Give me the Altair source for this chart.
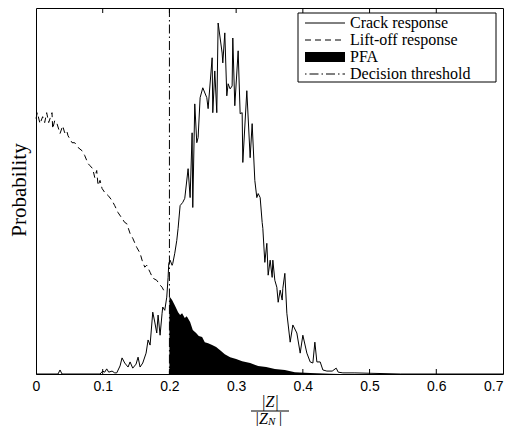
import altair as alt
import pandas as pd

# ---- data ----
crack_x = [0.0, 0.033, 0.036, 0.039, 0.096, 0.100, 0.103, 0.106, 0.109, 0.114, 0.118, 0.121,
           0.126, 0.129, 0.133, 0.138, 0.141, 0.145, 0.150, 0.153, 0.156, 0.160, 0.165, 0.168,
           0.171, 0.175, 0.178, 0.181, 0.183, 0.186, 0.189, 0.190, 0.193, 0.196, 0.198, 0.199,
           0.201, 0.204, 0.205, 0.208, 0.211, 0.213, 0.216, 0.220, 0.223, 0.228, 0.231, 0.234,
           0.235, 0.238, 0.241, 0.243, 0.246, 0.250, 0.256, 0.258, 0.264, 0.265, 0.268, 0.271,
           0.273, 0.279, 0.280, 0.283, 0.286, 0.288, 0.291, 0.294, 0.295, 0.298, 0.303, 0.306,
           0.309, 0.310, 0.316, 0.321, 0.324, 0.328, 0.331, 0.333, 0.336, 0.339, 0.340, 0.343,
           0.346, 0.348, 0.351, 0.354, 0.355, 0.358, 0.361, 0.363, 0.366, 0.369, 0.370, 0.373,
           0.376, 0.381, 0.385, 0.391, 0.396, 0.400, 0.406, 0.411, 0.415, 0.418, 0.421, 0.426,
           0.430, 0.436, 0.444, 0.450, 0.453, 0.460, 0.478, 0.546, 0.700]
crack_y = [0.0, 0.0, 0.011, 0.0, 0.0, 0.008, 0.005, 0.014, 0.005, 0.008, 0.003, 0.003,
           0.022, 0.044, 0.030, 0.019, 0.033, 0.016, 0.027, 0.046, 0.019, 0.030, 0.057, 0.093,
           0.079, 0.169, 0.142, 0.112, 0.161, 0.106, 0.166, 0.183, 0.174, 0.210, 0.264, 0.302,
           0.311, 0.297, 0.302, 0.330, 0.365, 0.398, 0.460, 0.469, 0.480, 0.561, 0.482, 0.659,
           0.455, 0.738, 0.632, 0.646, 0.755, 0.782, 0.755, 0.725, 0.864, 0.714, 0.828, 0.714,
           0.959, 0.877, 0.850, 0.932, 0.760, 0.793, 0.779, 0.787, 0.918, 0.733, 0.883, 0.711,
           0.714, 0.578, 0.774, 0.591, 0.684, 0.529, 0.482, 0.493, 0.482, 0.414, 0.398, 0.305,
           0.357, 0.270, 0.311, 0.264, 0.311, 0.256, 0.237, 0.196, 0.229, 0.202, 0.234, 0.275,
           0.166, 0.087, 0.134, 0.112, 0.057, 0.106, 0.057, 0.033, 0.030, 0.087, 0.033, 0.033,
           0.011, 0.008, 0.008, 0.016, 0.005, 0.003, 0.003, 0.0, 0.0]

lift_x = [0.0, 0.002, 0.006, 0.010, 0.013, 0.016, 0.019, 0.024, 0.025, 0.028, 0.031, 0.036,
          0.040, 0.043, 0.046, 0.048, 0.054, 0.058, 0.063, 0.069, 0.073, 0.078, 0.081, 0.085,
          0.088, 0.091, 0.093, 0.096, 0.099, 0.103, 0.108, 0.114, 0.118, 0.123, 0.129, 0.133,
          0.136, 0.141, 0.145, 0.151, 0.156, 0.159, 0.163, 0.166, 0.171, 0.175, 0.181, 0.186,
          0.189, 0.193]
lift_y = [0.698, 0.714, 0.684, 0.703, 0.687, 0.714, 0.687, 0.714, 0.670, 0.692, 0.687, 0.657,
          0.678, 0.659, 0.665, 0.651, 0.632, 0.632, 0.619, 0.610, 0.597, 0.575, 0.569, 0.561,
          0.537, 0.556, 0.515, 0.529, 0.507, 0.496, 0.488, 0.474, 0.460, 0.441, 0.425, 0.414,
          0.411, 0.384, 0.371, 0.346, 0.330, 0.311, 0.292, 0.297, 0.278, 0.262, 0.256, 0.243,
          0.237, 0.223]

pfa_x = [0.200, 0.201, 0.204, 0.208, 0.213, 0.216, 0.219, 0.223, 0.226, 0.231, 0.235, 0.240,
         0.244, 0.249, 0.253, 0.258, 0.264, 0.270, 0.276, 0.283, 0.291, 0.300, 0.309, 0.321,
         0.333, 0.345, 0.358, 0.373, 0.388, 0.411, 0.441, 0.456]
pfa_y = [0.210, 0.210, 0.202, 0.188, 0.169, 0.161, 0.166, 0.153, 0.158, 0.142, 0.120, 0.112,
         0.104, 0.101, 0.087, 0.084, 0.079, 0.074, 0.065, 0.054, 0.046, 0.041, 0.035, 0.030,
         0.022, 0.019, 0.014, 0.011, 0.005, 0.003, 0.001, 0.0]

threshold = [0.2]
tick_values = [0.0, 0.1, 0.2, 0.3, 0.4, 0.5, 0.6, 0.7]
inner_ticks = [0.1, 0.2, 0.3, 0.4, 0.5, 0.6]
legend_labels = ["Crack response", "Lift-off response", "PFA", "Decision threshold"]

W, H = 467, 366
SERIF = "Liberation Serif"

xs = alt.Scale(domain=[0, 0.7], nice=False, zero=False)
ys = alt.Scale(domain=[0, 1], nice=False)
xax = alt.Axis(values=tick_values, format=".1~f", grid=False, ticks=False, domain=False,
               labelFont="Liberation Sans", labelFontSize=14, labelColor="black",
               labelPadding=5, labelFlush=False, title=None,
               labelAlign=alt.expr("datum.value >= 0.7 ? 'right' : 'center'"))

crack_df = pd.DataFrame({"x": crack_x, "y": crack_y})
lift_df = pd.DataFrame({"x": lift_x, "y": lift_y})
pfa_df = pd.DataFrame({"x": pfa_x, "y": pfa_y})
one = pd.DataFrame({"a": [0]})

pfa = alt.Chart(pfa_df).mark_area(color="black", interpolate="linear").encode(
    x=alt.X("x:Q", scale=xs, axis=xax), y=alt.Y("y:Q", scale=ys, axis=None))
crack = alt.Chart(crack_df).mark_line(color="black", strokeWidth=1).encode(
    x=alt.X("x:Q", scale=xs), y=alt.Y("y:Q", scale=ys))
lift = alt.Chart(lift_df).mark_line(color="black", strokeWidth=1, strokeDash=[6, 4]).encode(
    x=alt.X("x:Q", scale=xs), y=alt.Y("y:Q", scale=ys))
thr = alt.Chart(pd.DataFrame({"x": threshold})).mark_rule(
    color="black", strokeWidth=1, strokeDash=[9, 3, 1.5, 3]).encode(
    x=alt.X("x:Q", scale=xs), y=alt.value(0), y2=alt.value(H))

tdf = pd.DataFrame({"x": inner_ticks})
ticks_bottom = alt.Chart(tdf).mark_rule(color="black", strokeWidth=1).encode(
    x=alt.X("x:Q", scale=xs), y=alt.value(H), y2=alt.value(H - 5))
ticks_top = alt.Chart(tdf).mark_rule(color="black", strokeWidth=1).encode(
    x=alt.X("x:Q", scale=xs), y=alt.value(0), y2=alt.value(5))

# legend (drawn by hand, as in the reference box)
LX0, LX1, LY0, LY1 = 262, 460, 5, 74
rows = [15, 32, 49, 66]
leg_box = alt.Chart(one).mark_rect(fill="white", stroke="black", strokeWidth=1).encode(
    x=alt.value(LX0), x2=alt.value(LX1), y=alt.value(LY0), y2=alt.value(LY1))
leg_solid = alt.Chart(one).mark_rule(color="black", strokeWidth=1).encode(
    x=alt.value(269), x2=alt.value(309), y=alt.value(rows[0]))
leg_dash = alt.Chart(one).mark_rule(color="black", strokeWidth=1, strokeDash=[6, 4]).encode(
    x=alt.value(269), x2=alt.value(309), y=alt.value(rows[1]))
leg_fill = alt.Chart(one).mark_rect(color="black").encode(
    x=alt.value(269), x2=alt.value(309), y=alt.value(rows[2] - 5), y2=alt.value(rows[2] + 5))
leg_dd = alt.Chart(one).mark_rule(color="black", strokeWidth=1, strokeDash=[1.5, 3, 9, 3]).encode(
    x=alt.value(269), x2=alt.value(309), y=alt.value(rows[3]))
leg_texts = [
    alt.Chart(one).mark_text(font=SERIF, fontSize=16, align="left", baseline="middle",
                             color="black").encode(
        x=alt.value(314), y=alt.value(r), text=alt.value(t))
    for r, t in zip(rows, legend_labels)
]

# axis titles
ytitle = alt.Chart(one).mark_text(font=SERIF, fontSize=21, angle=270, align="center",
                                  baseline="middle", color="black").encode(
    x=alt.value(-16), y=alt.value(182), text=alt.value("Probability"))
fx = 234
num = alt.Chart(one).mark_text(font=SERIF, fontStyle="italic", fontSize=16, align="center",
                               baseline="middle", color="black").encode(
    x=alt.value(fx), y=alt.value(H + 28), text=alt.value("|Z|"))
bar = alt.Chart(one).mark_rule(color="black", strokeWidth=1).encode(
    x=alt.value(fx - 19), x2=alt.value(fx + 19), y=alt.value(H + 37))
den1 = alt.Chart(one).mark_text(font=SERIF, fontStyle="italic", fontSize=16, align="right",
                                baseline="middle", color="black").encode(
    x=alt.value(fx - 2), y=alt.value(H + 45), text=alt.value("|Z"))
den2 = alt.Chart(one).mark_text(font=SERIF, fontStyle="italic", fontSize=11, align="left",
                                baseline="middle", color="black").encode(
    x=alt.value(fx - 2), y=alt.value(H + 48), text=alt.value("N"))
den3 = alt.Chart(one).mark_text(font=SERIF, fontStyle="italic", fontSize=16, align="left",
                                baseline="middle", color="black").encode(
    x=alt.value(fx + 8), y=alt.value(H + 45), text=alt.value("|"))

chart = alt.layer(
    pfa, crack, lift, thr, ticks_bottom, ticks_top,
    leg_box, leg_solid, leg_dash, leg_fill, leg_dd, *leg_texts,
    ytitle, num, bar, den1, den2, den3
).properties(
    width=W, height=H,
    autosize=alt.AutoSizeParams(type="none"),
    padding={"left": 28, "top": 0, "right": 1, "bottom": 52},
    background="white",
).configure_view(stroke="black", strokeWidth=1)

chart.save("out.html", embed_options={"renderer": "svg", "actions": False})
